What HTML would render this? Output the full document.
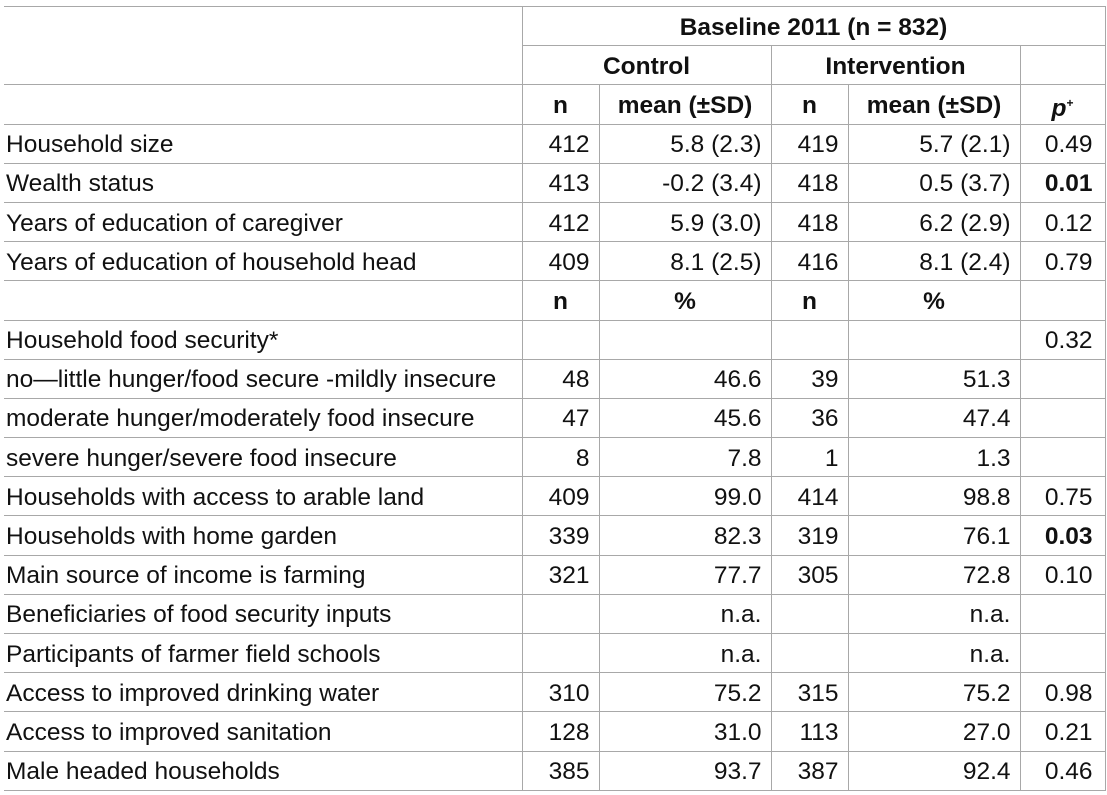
<!DOCTYPE html>
<html><head><meta charset="utf-8">
<style>
html,body{margin:0;padding:0;background:#fff;width:1107px;height:795px;overflow:hidden}
table{position:absolute;left:4px;top:6px;border-collapse:collapse;table-layout:fixed;font-family:"Liberation Sans",Arial,sans-serif;font-size:24.5px;color:#111}
td{height:35.2px;padding:3px 0 0 0;border-bottom:1.5px solid #a8a8a8;white-space:nowrap;line-height:24px}
tr.top td{border-top:1.5px solid #a8a8a8}
td.l{padding-left:2px;text-align:left}
td.vl{border-left:1.5px solid #a8a8a8}
td.r{text-align:right;padding-right:9px}
td.c{text-align:center}
td.b{font-weight:bold}
td.last{border-right:1.5px solid #a8a8a8}
td.nb{border-bottom:none}
</style></head><body>
<table>
<colgroup><col style="width:518px"><col style="width:77px"><col style="width:172px"><col style="width:77px"><col style="width:172px"><col style="width:85px"></colgroup>
<tbody id="tb">
<tr class="top"><td class="nb"></td><td colspan="5" class="c b vl last">Baseline 2011 (n = 832)</td></tr>
<tr><td></td><td colspan="2" class="c b vl">Control</td><td colspan="2" class="c b vl">Intervention</td><td class="vl last"></td></tr>
<tr><td></td><td class="c b vl">n</td><td class="c b vl">mean (±SD)</td><td class="c b vl">n</td><td class="c b vl">mean (±SD)</td><td class="c b vl last"><i>p</i><sup style="font-size:12px">+</sup></td></tr>
</tbody></table>
<script>
const labels=["Household size","Wealth status","Years of education of caregiver","Years of education of household head","#","Household food security*","no\u2014little hunger/food secure -mildly insecure","moderate hunger/moderately food insecure","severe hunger/severe food insecure","Households with access to arable land","Households with home garden","Main source of income is farming","Beneficiaries of food security inputs","Participants of farmer field schools","Access to improved drinking water","Access to improved sanitation","Male headed households"];
const controlN=["412","413","412","409","n","","48","47","8","409","339","321","","","310","128","385"];
const controlVal=["5.8 (2.3)","-0.2 (3.4)","5.9 (3.0)","8.1 (2.5)","%","","46.6","45.6","7.8","99.0","82.3","77.7","n.a.","n.a.","75.2","31.0","93.7"];
const interN=["419","418","418","416","n","","39","36","1","414","319","305","","","315","113","387"];
const interVal=["5.7 (2.1)","0.5 (3.7)","6.2 (2.9)","8.1 (2.4)","%","","51.3","47.4","1.3","98.8","76.1","72.8","n.a.","n.a.","75.2","27.0","92.4"];
const pVals=["0.49","0.01","0.12","0.79","","0.32","","","","0.75","0.03","0.10","","","0.98","0.21","0.46"];
const boldP=["0.01","0.03"];
const tb=document.getElementById('tb');
labels.forEach((lab,i)=>{
  const tr=document.createElement('tr');
  
  
  const sub=lab==="#";
  const cells=[[sub?"":lab,'l'],[controlN[i],sub?'c b vl':'r vl'],[controlVal[i],sub?'c b vl':'r vl'],[interN[i],sub?'c b vl':'r vl'],[interVal[i],sub?'c b vl':'r vl'],[pVals[i],'r vl last'+(boldP.includes(pVals[i])?' b':'')]];
  cells.forEach((c,j)=>{
    const td=document.createElement('td');
    td.className=c[1];
    if(j===5) td.style.paddingRight='12px';
    td.textContent=c[0];
    
    
    tr.appendChild(td);
  });
  tb.appendChild(tr);
});
</script>
</body></html>
